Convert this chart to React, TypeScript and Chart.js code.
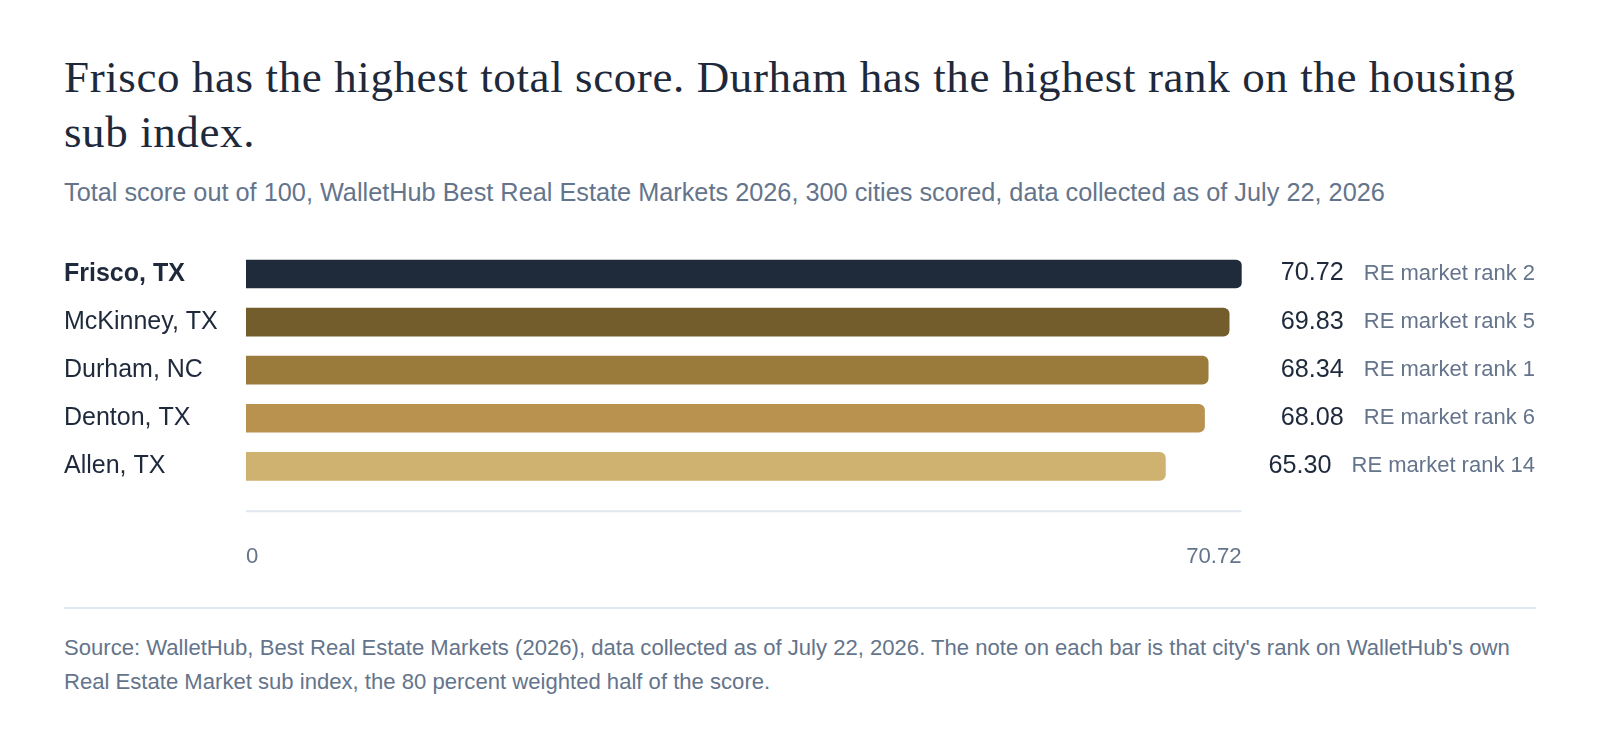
import { useEffect, useRef } from 'react';
import Chart from 'chart.js/auto';

const CITIES = ['Frisco, TX', 'McKinney, TX', 'Durham, NC', 'Denton, TX', 'Allen, TX'];
const SCORES = [70.72, 69.83, 68.34, 68.08, 65.3];
const RE_RANKS = [2, 5, 1, 6, 14];
const X_TICKS = [0, 70.72];
const BAR_COLORS = ['#1f2b3b', '#745d2d', '#9a7b3c', '#b8924e', '#cfb170'];

const INK = '#1e293b';
const MUTED = '#64748b';
const RULE = '#e2e8f0';
const SANS = '"Liberation Sans", Arial, sans-serif';

// value + "RE market rank n" to the right of the plot, plus the thin baseline under the bars
const barNotes = {
  id: 'barNotes',
  afterDatasetsDraw(chart: any) {
    const { ctx, width, chartArea } = chart;
    const meta = chart.getDatasetMeta(0);
    ctx.save();
    ctx.textBaseline = 'middle';
    ctx.textAlign = 'right';
    meta.data.forEach((bar: any, i: number) => {
      const note = `RE market rank ${RE_RANKS[i]}`;
      ctx.font = `22px ${SANS}`;
      ctx.fillStyle = MUTED;
      ctx.fillText(note, width - 1, bar.y);
      const w = ctx.measureText(note).width;
      ctx.font = `25.2px ${SANS}`;
      ctx.fillStyle = INK;
      ctx.fillText(SCORES[i].toFixed(2), width - 1 - w - 20, bar.y - 0.5);
    });
    ctx.strokeStyle = RULE;
    ctx.lineWidth = 2;
    ctx.beginPath();
    ctx.moveTo(chartArea.left, chartArea.bottom + 21);
    ctx.lineTo(chartArea.right, chartArea.bottom + 21);
    ctx.stroke();
    ctx.restore();
  }
};

export default function App() {
  const canvasRef = useRef<HTMLCanvasElement | null>(null);

  useEffect(() => {
    if (!canvasRef.current) return;
    const chart = new Chart(canvasRef.current, {
      type: 'bar',
      data: {
        labels: CITIES,
        datasets: [
          {
            data: SCORES,
            backgroundColor: BAR_COLORS,
            borderRadius: 6,
            barThickness: 28
          }
        ]
      },
      options: {
        indexAxis: 'y',
        animation: false,
        responsive: false,
        layout: { padding: { top: 20, right: 294.3, bottom: 0, left: 0 } },
        plugins: {
          legend: { display: false },
          tooltip: { enabled: false }
        },
        scales: {
          x: {
            min: 0,
            max: X_TICKS[X_TICKS.length - 1],
            grid: { display: false, drawTicks: false },
            border: { display: false },
            afterBuildTicks: (s: any) => {
              s.ticks = X_TICKS.map((v) => ({ value: v }));
            },
            ticks: {
              align: 'inner',
              autoSkip: false,
              maxRotation: 0,
              padding: 53,
              color: MUTED,
              font: { family: SANS, size: 22.2 },
              callback: (v: any) => String(v)
            }
          },
          y: {
            grid: { display: false, drawTicks: false },
            border: { display: false },
            afterFit: (s: any) => {
              s.width = 182;
            },
            ticks: {
              crossAlign: 'far',
              padding: 0,
              color: INK,
              font: (c: any) => ({
                family: SANS,
                size: 25,
                weight: c.index === 0 ? 'bold' : 'normal'
              })
            }
          }
        }
      },
      plugins: [barNotes]
    });
    return () => chart.destroy();
  }, []);

  return (
    <div style={{ position: 'absolute', left: 0, top: 0, width: 1600, height: 742, background: '#fff' }}>
      <div
        style={{
          position: 'absolute',
          left: 64,
          top: 50,
          width: 1472,
          fontFamily: '"Liberation Serif", serif',
          fontSize: 45,
          letterSpacing: '0.6px',
          lineHeight: '55px',
          color: INK,
          whiteSpace: 'nowrap'
        }}
      >
        Frisco has the highest total score. Durham has the highest rank on the housing
        <br />
        sub index.
      </div>
      <div
        style={{
          position: 'absolute',
          left: 64,
          top: 178.4,
          width: 1472,
          fontFamily: SANS,
          fontSize: 25.3,
          lineHeight: '29px',
          color: MUTED
        }}
      >
        Total score out of 100, WalletHub Best Real Estate Markets 2026, 300 cities scored, data collected as of July 22, 2026
      </div>
      <div style={{ position: 'absolute', left: 64, top: 230, width: 1472, height: 393 }}>
        <canvas ref={canvasRef} width={1472} height={393} style={{ width: 1472, height: 393 }}></canvas>
      </div>
      <div style={{ position: 'absolute', left: 64, top: 607.3, width: 1472, height: 2, background: RULE }}></div>
      <div
        style={{
          position: 'absolute',
          left: 64,
          top: 631.4,
          width: 1472,
          fontFamily: SANS,
          fontSize: 22.1,
          lineHeight: '34px',
          color: MUTED
        }}
      >
        Source: WalletHub, Best Real Estate Markets (2026), data collected as of July 22, 2026. The note on each bar is
        that city's rank on WalletHub's own Real Estate Market sub index, the 80 percent weighted half of the score.
      </div>
    </div>
  );
}
